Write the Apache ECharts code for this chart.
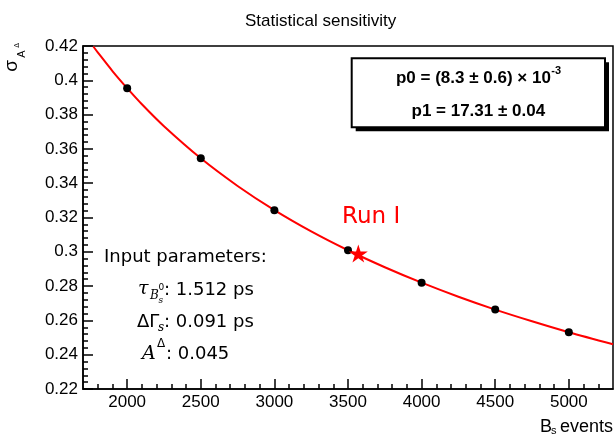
<!DOCTYPE html>
<html><head><meta charset="utf-8">
<script src="https://cdn.jsdelivr.net/npm/echarts@6/dist/echarts.min.js"></script>
<style>html,body{margin:0;padding:0;background:#fff}#c{width:616px;height:436px}</style>
</head><body><div id="c"></div>
<script>
const chartTitle = 'Statistical sensitivity';
const eventsX = [2000, 2500, 3000, 3500, 4000, 4500, 5000];
const sigmaY = [0.3954, 0.3545, 0.3243, 0.3009, 0.2820, 0.2663, 0.2531];
const fitX = [1770, 1800, 1900, 2000, 2100, 2250, 2500, 2750, 3000, 3250, 3500, 3750, 4000, 4250, 4500, 4750, 5000, 5300];
const fitY = [0.4197, 0.4163, 0.4054, 0.3954, 0.3860, 0.3732, 0.3545, 0.3384, 0.3243, 0.3119, 0.3009, 0.2910, 0.2820, 0.2738, 0.2663, 0.2595, 0.2531, 0.2461];
const runIX = [3570];
const runIY = [0.2990];
const xTickLabels = [2000, 2500, 3000, 3500, 4000, 4500, 5000];
const fitParams = ['p0 = (8.3 \u00b1 0.6) \u00d7 10', '-3', 'p1 = 17.31 \u00b1 0.04'];
const inputValues = ['1.512 ps', '0.091 ps', '0.045'];

const X_MIN = 1700, X_MAX = 5300, Y_MIN = 0.22, Y_MAX = 0.42;
const minorX = [];
for (let v = 1800; v < X_MAX; v += 100) minorX.push(v);

const starPath = 'path://M0,-10 L2.245,-3.09 L9.511,-3.09 L3.633,1.18 L5.878,8.09 L0,3.82 L-5.878,8.09 L-3.633,1.18 L-9.511,-3.09 L-2.245,-3.09 Z';

const HELV = '"Liberation Sans", Arial, sans-serif';
const SANS = '"DejaVu Sans", sans-serif';
const SERIF = '"DejaVu Serif", serif';

const cv = document.createElement('canvas').getContext('2d');
function tw(t, font) { cv.font = font; return cv.measureText(t).width; }

const w1 = tw(fitParams[0], 'bold 17px ' + HELV), wSup = tw(fitParams[1], 'bold 11px ' + HELV);
const boxCx = 478.3;
const l1x = boxCx - (w1 + wSup) / 2;

function txt(x, y, s, opt) {
  return {
    type: 'text', x: x, y: y, silent: true,
    style: Object.assign({ text: s, fill: '#000', fontSize: 18, fontFamily: SANS, fontWeight: 'normal', textAlign: 'left', textVerticalAlign: 'middle' }, opt || {})
  };
}
function rtxt(x, y, s, opt) {
  const e = txt(x, y, s, opt); e.rotation = Math.PI / 2; return e;
}

const graphics = [
  { type: 'rect', shape: { x: 355.7, y: 62.3, width: 253.3, height: 69 }, style: { fill: '#000' }, silent: true },
  { type: 'rect', shape: { x: 351.7, y: 58.3, width: 253.3, height: 69 }, style: { fill: '#fff', stroke: '#000', lineWidth: 2 }, silent: true },
  txt(l1x, 78, fitParams[0], { fontSize: 17, fontWeight: 'bold', fontFamily: HELV }),
  txt(l1x + w1 + 0.5, 71, fitParams[1], { fontSize: 11, fontWeight: 'bold', fontFamily: HELV }),
  txt(boxCx, 111, fitParams[2], { fontSize: 17, fontWeight: 'bold', fontFamily: HELV, textAlign: 'center' }),
  txt(342, 217, 'Run I', { fontSize: 23, fill: '#ff0000' }),
  txt(104, 257, 'Input parameters:', { fontSize: 18 }),
  txt(138, 289, '\u03c4', { fontSize: 19, fontFamily: SERIF, fontStyle: 'italic' }),
  txt(150, 296, 'B', { fontSize: 12, fontFamily: SERIF, fontStyle: 'italic' }),
  txt(158.5, 301, 's', { fontSize: 9, fontFamily: SERIF, fontStyle: 'italic' }),
  txt(158.5, 288, '0', { fontSize: 9, fontFamily: SANS }),
  txt(164, 290, ': ' + inputValues[0], { fontSize: 18 }),
  txt(137, 322, '\u0394\u0393', { fontSize: 18 }),
  txt(158, 328, 's', { fontSize: 12, fontFamily: SERIF, fontStyle: 'italic' }),
  txt(164, 322, ': ' + inputValues[1], { fontSize: 18 }),
  txt(142, 354, 'A', { fontSize: 19, fontFamily: SERIF, fontStyle: 'italic' }),
  txt(157, 344, '\u0394', { fontSize: 12 }),
  txt(166, 354, ': ' + inputValues[2], { fontSize: 18 }),
  txt(613, 427, 'events', { fontSize: 18, fontFamily: HELV, textAlign: 'right' }),
  txt(551, 431, 's', { fontSize: 11, fontFamily: HELV }),
  txt(540, 427, 'B', { fontSize: 18, fontFamily: HELV }),
  rtxt(12, 66, '\u03c3', { fontSize: 19, fontFamily: HELV, textAlign: 'center' }),
  rtxt(21.5, 54, 'A', { fontSize: 11, fontFamily: HELV, textAlign: 'center' }),
  rtxt(17.5, 45.5, '\u0394', { fontSize: 7, fontFamily: HELV, textAlign: 'center' })
];

const chart = echarts.init(document.getElementById('c'), null, { renderer: 'canvas' });
chart.setOption({
  animation: false,
  backgroundColor: '#fff',
  title: { text: chartTitle, left: 240, top: 8, textStyle: { fontFamily: HELV, fontSize: 17, fontWeight: 'normal', color: '#000' } },
  grid: { left: 83, right: 3, top: 46, bottom: 47, show: true, borderColor: '#000', borderWidth: 1.5, backgroundColor: 'transparent' },
  xAxis: [{
    type: 'value', min: X_MIN, max: X_MAX, position: 'bottom',
    axisLine: { show: true, lineStyle: { color: '#000', width: 1.5 } },
    axisTick: { show: true, inside: true, length: 10, customValues: xTickLabels, lineStyle: { color: '#000', width: 1.5 } },
    axisLabel: { customValues: xTickLabels, formatter: v => String(v), color: '#000', fontFamily: HELV, fontSize: 17, margin: 5 },
    splitLine: { show: false }
  }, {
    type: 'value', min: X_MIN, max: X_MAX, position: 'bottom', gridIndex: 0,
    axisLine: { show: false },
    axisTick: { show: true, inside: true, length: 5, customValues: minorX, lineStyle: { color: '#000', width: 1.5 } },
    axisLabel: { show: false },
    splitLine: { show: false }
  }],
  yAxis: {
    type: 'value', min: Y_MIN, max: Y_MAX, interval: 0.02,
    axisLine: { show: true, lineStyle: { color: '#000', width: 1.5 } },
    axisTick: { show: true, inside: true, length: 10, lineStyle: { color: '#000', width: 1.5 } },
    minorTick: { show: true, splitNumber: 5, length: 5, lineStyle: { color: '#000', width: 1.5 } },
    axisLabel: { color: '#000', fontFamily: HELV, fontSize: 17, margin: 5 },
    splitLine: { show: false }, minorSplitLine: { show: false }
  },
  series: [{
    type: 'line', xAxisIndex: 0, data: fitX.map((x, i) => [x, fitY[i]]), smooth: 0.3,
    showSymbol: false, symbol: 'none', lineStyle: { color: '#ff0000', width: 2 }, clip: true, silent: true
  }, {
    type: 'scatter', xAxisIndex: 0, data: eventsX.map((x, i) => [x, sigmaY[i]]),
    symbol: 'circle', symbolSize: 8, itemStyle: { color: '#000', opacity: 1 }, z: 5
  }, {
    type: 'scatter', xAxisIndex: 0, data: runIX.map((x, i) => [x, runIY[i]]),
    symbol: starPath, symbolSize: 19, symbolKeepAspect: true, itemStyle: { color: '#ff0000', opacity: 1 }, z: 6
  }],
  graphic: graphics
});
</script></body></html>
